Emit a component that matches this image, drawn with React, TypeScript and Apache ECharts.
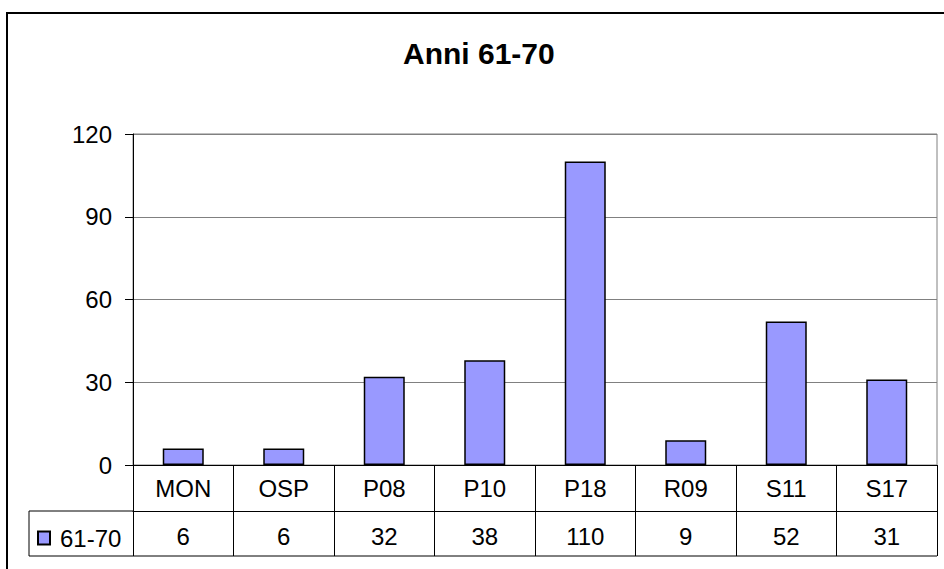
import React, { useEffect, useRef } from "react";
import * as echarts from "echarts";

const titleText = "Anni 61-70";
const seriesName = "61-70";
const categories = ["MON", "OSP", "P08", "P10", "P18", "R09", "S11", "S17"];
const values = [6, 6, 32, 38, 110, 9, 52, 31];
const yMin = 0;
const yMax = 120;
const yInterval = 30;

const W = 944;
const H = 569;
const FONT = "'Liberation Sans', Arial, Helvetica, sans-serif";

export default function App() {
  const ref = useRef<HTMLDivElement>(null);

  useEffect(() => {
    if (!ref.current) return;
    const chart = echarts.init(ref.current, undefined, { renderer: "svg" });

    const gridLeft = 133;
    const gridRight = 7;
    const gridTop = 134;
    const gridBottom = 104;
    const axisY = H - gridBottom; // 465
    const rowH = 46;
    const row2Y = axisY + rowH; // 511
    const row3Y = axisY + 2 * rowH - 1; // ~555
    const legendCellLeft = 29;
    const plotRight = W - gridRight;

    chart.setOption({
      animation: false,
      backgroundColor: "#ffffff",
      textStyle: { fontFamily: FONT },
      title: {
        text: titleText,
        left: 403,
        top: 38,
        padding: 0,
        textStyle: { fontFamily: FONT, fontSize: 30, fontWeight: "bold", color: "#000" },
      },
      legend: {
        data: [seriesName],
        left: 37,
        top: 526,
        padding: 0,
        itemWidth: 12,
        itemHeight: 13,
        icon: "rect",
        textStyle: { fontFamily: FONT, fontSize: 24, color: "#000", padding: [2, 0, 0, 5] },
      },
      grid: {
        left: gridLeft,
        right: gridRight,
        top: gridTop,
        bottom: gridBottom,
        show: true,
        borderColor: "#808080",
        borderWidth: 1,
        backgroundColor: "transparent",
        containLabel: false,
        outerBoundsMode: "none",
      },
      xAxis: [
        {
          type: "category",
          data: categories,
          position: "bottom",
          boundaryGap: true,
          axisLine: { show: true, lineStyle: { color: "#000", width: 1 } },
          axisTick: { show: true, length: 2 * rowH - 1, interval: 0, lineStyle: { color: "#000", width: 1 } },
          axisLabel: {
            interval: 0,
            margin: 23,
            verticalAlign: "middle",
            fontFamily: FONT,
            fontSize: 24,
            color: "#000",
          },
          splitLine: { show: false },
        },
        {
          type: "category",
          data: values.map((v) => String(v)),
          position: "bottom",
          offset: rowH,
          boundaryGap: true,
          axisLine: { show: true, lineStyle: { color: "#000", width: 1 } },
          axisTick: { show: false },
          axisLabel: {
            interval: 0,
            margin: 25,
            verticalAlign: "middle",
            fontFamily: FONT,
            fontSize: 24,
            color: "#000",
          },
          splitLine: { show: false },
        },
      ],
      yAxis: {
        type: "value",
        min: yMin,
        max: yMax,
        interval: yInterval,
        axisLine: { show: true, lineStyle: { color: "#000", width: 1 } },
        axisTick: { show: true, length: 8, lineStyle: { color: "#000" } },
        axisLabel: { margin: 21, fontFamily: FONT, fontSize: 24, color: "#000" },
        splitLine: { show: true, lineStyle: { color: "#808080", width: 1 } },
      },
      series: [
        {
          name: seriesName,
          type: "bar",
          xAxisIndex: 0,
          data: values,
          barWidth: 41,
          itemStyle: { color: "#9999FF", borderColor: "#000", borderWidth: 1.5 },
        },
      ],
      graphic: [
        {
          type: "rect",
          shape: { x: 7, y: 13, width: W + 50, height: H + 50 },
          style: { fill: "none", stroke: "#000", lineWidth: 2 },
          silent: true,
        },
        {
          type: "line",
          shape: { x1: legendCellLeft, y1: row2Y, x2: gridLeft, y2: row2Y },
          style: { stroke: "#000", lineWidth: 1 },
          silent: true,
        },
        {
          type: "line",
          shape: { x1: legendCellLeft, y1: row3Y, x2: plotRight, y2: row3Y },
          style: { stroke: "#000", lineWidth: 1 },
          silent: true,
        },
        {
          type: "line",
          shape: { x1: legendCellLeft, y1: row2Y, x2: legendCellLeft, y2: row3Y },
          style: { stroke: "#000", lineWidth: 1 },
          silent: true,
        },
      ],
    });

    return () => chart.dispose();
  }, []);

  return (
    <div
      ref={ref}
      style={{ position: "absolute", left: 0, top: 0, width: W, height: H }}
    />
  );
}
